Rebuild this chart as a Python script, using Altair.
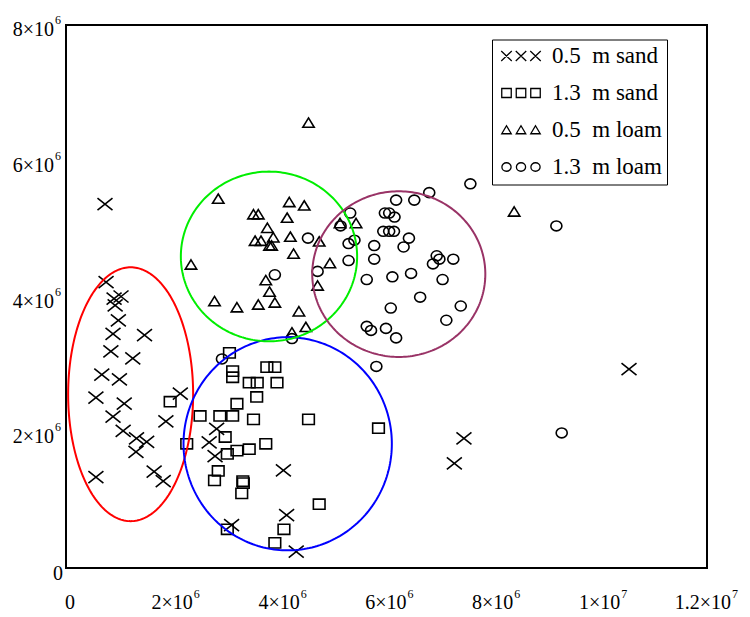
import altair as alt
import pandas as pd
import numpy as np

SERIES = ["0.5 m sand", "1.3 m sand", "0.5 m loam", "1.3 m loam"]

# values in units of 1e6
sand05_x = [0.75, 0.90, 1.03, 0.92, 0.98, 0.88, 1.47, 0.84, 1.25, 0.67, 1.00, 0.56, 1.09, 2.14,
            0.88, 1.87, 1.07, 1.32, 1.51, 1.31, 0.56, 1.65, 1.82, 2.82, 2.68, 2.79, 3.10, 0.73,
            4.07, 4.13, 4.31, 10.54, 7.45, 7.27]
sand05_y = [4.21, 3.97, 4.00, 3.87, 3.65, 3.45, 3.43, 3.19, 3.09, 2.85, 2.78, 2.51, 2.42, 2.57,
            2.23, 2.16, 2.02, 1.91, 1.86, 1.71, 1.34, 1.42, 1.28, 2.05, 1.85, 1.65, 0.63, 5.36,
            1.44, 0.78, 0.24, 2.93, 1.91, 1.54]

sand13_x = [3.06, 3.12, 3.12, 3.76, 3.91, 3.43, 3.58, 3.95, 3.57, 3.20, 1.95, 2.51, 2.88, 3.12,
            3.51, 4.54, 5.85, 2.98, 2.26, 3.74, 3.43, 3.20, 3.02, 2.85, 2.78, 3.31, 3.32, 3.29,
            4.74, 4.08, 3.02, 3.91]
sand13_y = [3.17, 2.90, 2.81, 2.96, 2.96, 2.73, 2.73, 2.73, 2.52, 2.42, 2.45, 2.24, 2.24, 2.24,
            2.19, 2.19, 2.06, 1.93, 1.83, 1.83, 1.75, 1.73, 1.68, 1.43, 1.29, 1.28, 1.25, 1.10,
            0.94, 0.57, 0.57, 0.37]

loam05_x = [4.54, 2.85, 4.18, 4.46, 3.51, 3.60, 4.14, 3.77, 3.88, 3.54, 3.65, 4.20, 3.81, 3.85,
            4.74, 4.26, 2.34, 4.94, 3.74, 3.81, 4.71, 2.78, 3.20, 3.60, 3.91, 4.36, 4.49, 4.23,
            5.13, 5.43, 8.39]
loam05_y = [6.56, 5.44, 5.39, 5.34, 5.21, 5.21, 5.16, 5.01, 4.87, 4.82, 4.82, 4.88, 4.75, 4.75,
            4.81, 4.63, 4.47, 4.49, 4.24, 4.07, 4.16, 3.93, 3.84, 3.88, 3.91, 3.78, 3.55, 3.47,
            5.08, 5.08, 5.25]

loam13_x = [7.57, 6.80, 6.18, 6.52, 5.32, 5.97, 6.05, 6.15, 5.14, 5.94, 6.05, 6.14, 6.42, 5.40,
            4.53, 5.29, 5.77, 6.32, 6.94, 6.99, 7.25, 6.87, 5.77, 5.29, 4.71, 6.46, 6.11, 5.63,
            7.05, 6.63, 6.08, 7.39, 7.12, 5.63, 5.71, 5.99, 6.18, 5.81, 3.91, 4.23, 2.92, 9.18,
            9.28]
loam13_y = [5.66, 5.53, 5.42, 5.42, 5.23, 5.23, 5.23, 5.17, 5.04, 4.96, 4.96, 4.96, 4.86, 4.83,
            4.86, 4.78, 4.75, 4.73, 4.60, 4.55, 4.55, 4.48, 4.55, 4.53, 4.37, 4.34, 4.29, 4.25,
            4.25, 3.99, 3.83, 3.86, 3.65, 3.56, 3.50, 3.53, 3.39, 2.97, 4.32, 3.38, 3.08, 5.04,
            1.99]

# ellipses drawn around the groups (centre, semi-axes, in 1e6)
ell_name = ["e_red", "e_blue", "e_green", "e_maroon"]
ell_cx = [1.21, 4.15, 3.80, 6.23]
ell_cy = [2.56, 1.83, 4.59, 4.33]
ell_rx = [1.17, 1.95, 1.65, 1.62]
ell_ry = [1.87, 1.57, 1.25, 1.22]
ell_color = ["#ff0000", "#0000ff", "#00ee00", "#993366"]

# axis ticks
x_ticks = [0, 2, 4, 6, 8, 10, 12]
x_base = ["0", "2×10", "4×10", "6×10", "8×10", "1×10", "1.2×10"]
x_exp = ["", "6", "6", "6", "6", "7", "7"]
y_ticks = [0, 2, 4, 6, 8]
y_base = ["0", "2×10", "4×10", "6×10", "8×10"]
y_exp = ["", "6", "6", "6", "6"]

# ---------- tables ----------
rows = []
for name, xs, ys in zip(SERIES, [sand05_x, sand13_x, loam05_x, loam13_x],
                        [sand05_y, sand13_y, loam05_y, loam13_y]):
    for a, b in zip(xs, ys):
        rows.append({"series": name, "x": a, "y": b})
pts = pd.DataFrame(rows)

t = np.linspace(0, 2 * np.pi, 241)
erows = []
for n, cx, cy, rx, ry in zip(ell_name, ell_cx, ell_cy, ell_rx, ell_ry):
    for i, tt in enumerate(t):
        erows.append({"ell": n, "i": i, "x": cx + rx * np.cos(tt), "y": cy + ry * np.sin(tt)})
ell = pd.DataFrame(erows)

xt = pd.DataFrame({"v": x_ticks, "base": x_base, "exp": x_exp})
yt = pd.DataFrame({"v": y_ticks, "base": y_base, "exp": y_exp})

FONT = "Liberation Serif, Times New Roman, Times, serif"

# marker shapes (custom SVG paths, unit = sqrt(size)/2 px)
P_CROSS = "M-1.25,-1.0L1.25,1.0M-1.25,1.0L1.25,-1.0"
P_SQUARE = "M-0.97,-0.85L0.97,-0.85L0.97,0.85L-0.97,0.85Z"
P_TRI = "M0,-0.8L0.95,0.75L-0.95,0.75Z"
P_CIRC = "M0.92,0A0.92,0.83,0,1,1,-0.92,0A0.92,0.83,0,1,1,0.92,0Z"


def triple(kind):
    out = []
    for c in [-0.4, 2.5, 5.4]:
        if kind == "x":
            out.append(f"M{c-1.05:.2f},-1.0L{c+1.05:.2f},1.0M{c-1.05:.2f},1.0L{c+1.05:.2f},-1.0")
        elif kind == "s":
            out.append(f"M{c-0.95:.2f},-0.9L{c+0.95:.2f},-0.9L{c+0.95:.2f},0.9L{c-0.95:.2f},0.9Z")
        elif kind == "t":
            out.append(f"M{c:.2f},-0.85L{c+0.95:.2f},0.75L{c-0.95:.2f},0.75Z")
        else:
            out.append(f"M{c+0.92:.2f},0A0.92,0.85,0,1,1,{c-0.92:.2f},0A0.92,0.85,0,1,1,{c+0.92:.2f},0Z")
    return "".join(out)


xscale = alt.Scale(domain=[0, 12], nice=False, zero=False)
yscale = alt.Scale(domain=[0, 8], nice=False, zero=False)

xaxis = alt.Axis(values=x_ticks, labels=False, ticks=False, domain=False, title=None,
                 grid=True, gridWidth=1, gridOpacity=1,
                 gridColor={"condition": {"test": "datum.value % 4 == 0", "value": "#8a8a8a"},
                            "value": "#262626"})
yaxis = alt.Axis(values=y_ticks, labels=False, ticks=False, domain=False, title=None,
                 grid=True, gridWidth=1, gridOpacity=1, gridColor="#8a8a8a")

points = alt.Chart(pts).mark_point(filled=False, color="black", strokeWidth=1.6, size=144,
                                   opacity=1).encode(
    x=alt.X("x:Q", scale=xscale, axis=xaxis),
    y=alt.Y("y:Q", scale=yscale, axis=yaxis),
    shape=alt.Shape("series:N", scale=alt.Scale(domain=SERIES, range=[P_CROSS, P_SQUARE, P_TRI, P_CIRC]),
                    legend=None),
)

NB = "\u00a0"
legend_layer = alt.Chart(pts).transform_calculate(hx="-datum.x - 5").mark_point(
    filled=False, color="black", strokeWidth=1.3, size=100, opacity=1, clip=True).encode(
    x=alt.X("hx:Q", scale=xscale, axis=None),
    y=alt.Y("y:Q", scale=yscale, axis=None),
    shape=alt.Shape("series:N",
                    scale=alt.Scale(domain=SERIES, range=[triple("x"), triple("s"), triple("t"), triple("c")]),
                    legend=alt.Legend(title=None, orient="none", legendX=426, legendY=14.5,
                                      direction="vertical", fillColor="white", strokeColor="black",
                                      padding=5, rowPadding=13, labelFont=FONT, labelFontSize=23,
                                      labelColor="black", labelOffset=32, labelLimit=400,
                                      symbolSize=100, symbolStrokeWidth=1.3, symbolStrokeColor="black",
                                      labelExpr=f"replace(datum.label, ' m ', '{NB*2}m{NB}') + '{NB*5}'")),
)

ellipses = alt.Chart(ell).mark_line(strokeWidth=2, clip=True).encode(
    x=alt.X("x:Q", scale=xscale, axis=None),
    y=alt.Y("y:Q", scale=yscale, axis=None),
    detail="ell:N",
    order="i:Q",
    color=alt.Color("ell:N", scale=alt.Scale(domain=ell_name, range=ell_color), legend=None),
)

# tick labels (base + superscript exponent)
ylab_base = alt.Chart(yt).transform_filter("datum.exp != ''").mark_text(
    align="right", baseline="alphabetic", font=FONT, fontSize=20, color="black", dx=-12, dy=11).encode(
    x=alt.datum(0), y=alt.Y("v:Q", scale=yscale, axis=None), text="base:N")
ylab_exp = alt.Chart(yt).transform_filter("datum.exp != ''").mark_text(
    align="right", baseline="alphabetic", font=FONT, fontSize=12, color="black", dx=-5, dy=-1).encode(
    x=alt.datum(0), y=alt.Y("v:Q", scale=yscale, axis=None), text="exp:N")
ylab_zero = alt.Chart(yt).transform_filter("datum.exp == ''").mark_text(
    align="right", baseline="alphabetic", font=FONT, fontSize=20, color="black", dx=-3, dy=12).encode(
    x=alt.datum(0), y=alt.Y("v:Q", scale=yscale, axis=None), text="base:N")

xlab_zero = alt.Chart(xt).transform_filter("datum.exp == ''").mark_text(
    align="center", baseline="alphabetic", font=FONT, fontSize=20, color="black", dx=4, dy=41).encode(
    x=alt.X("v:Q", scale=xscale, axis=None), y=alt.datum(0), text="base:N")
xlab_base_a = alt.Chart(xt).transform_filter("datum.exp != '' && length(datum.base) <= 4").mark_text(
    align="right", baseline="alphabetic", font=FONT, fontSize=20, color="black", dx=20, dy=41).encode(
    x=alt.X("v:Q", scale=xscale, axis=None), y=alt.datum(0), text="base:N")
xlab_base_b = alt.Chart(xt).transform_filter("length(datum.base) > 4").mark_text(
    align="right", baseline="alphabetic", font=FONT, fontSize=20, color="black", dx=24, dy=41).encode(
    x=alt.X("v:Q", scale=xscale, axis=None), y=alt.datum(0), text="base:N")
xlab_exp_a = alt.Chart(xt).transform_filter("datum.exp != '' && length(datum.base) <= 4").mark_text(
    align="left", baseline="alphabetic", font=FONT, fontSize=12, color="black", dx=21, dy=30).encode(
    x=alt.X("v:Q", scale=xscale, axis=None), y=alt.datum(0), text="exp:N")
xlab_exp_b = alt.Chart(xt).transform_filter("length(datum.base) > 4").mark_text(
    align="left", baseline="alphabetic", font=FONT, fontSize=12, color="black", dx=25, dy=30).encode(
    x=alt.X("v:Q", scale=xscale, axis=None), y=alt.datum(0), text="exp:N")

chart = alt.layer(
    points, legend_layer, ellipses,
    ylab_base, ylab_exp, ylab_zero,
    xlab_zero, xlab_base_a, xlab_base_b, xlab_exp_a, xlab_exp_b,
).resolve_scale(shape="independent").properties(
    width=641, height=543,
    autosize=alt.AutoSizeParams(type="none"),
    padding={"left": 66, "top": 25, "right": 43, "bottom": 49},
    background="white",
).configure_view(stroke="black", strokeWidth=2)

chart.save("out.html", embed_options={"renderer": "svg", "actions": False})
